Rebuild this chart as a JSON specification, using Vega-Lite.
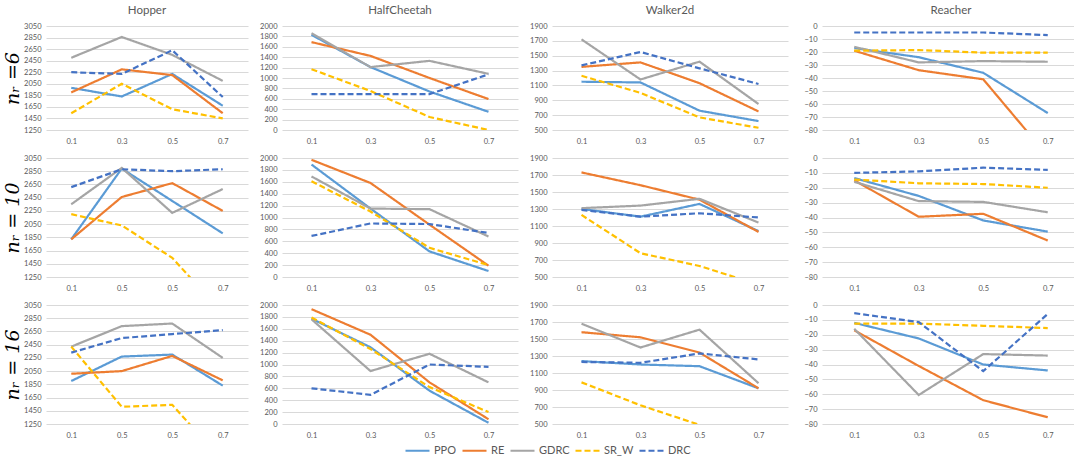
{
"$schema":"https://vega.github.io/schema/vega-lite/v6.json",
"background":"white",
"padding":{"left":3,"top":4,"right":0,"bottom":0},
"datasets":{"d":[
{"e":"Hopper","n":6,"m":"PPO","x":"0.1","v":1980},{"e":"Hopper","n":6,"m":"PPO","x":"0.3","v":1830},{"e":"Hopper","n":6,"m":"PPO","x":"0.5","v":2220},{"e":"Hopper","n":6,"m":"PPO","x":"0.7","v":1670},
{"e":"Hopper","n":6,"m":"RE","x":"0.1","v":1900},{"e":"Hopper","n":6,"m":"RE","x":"0.3","v":2300},{"e":"Hopper","n":6,"m":"RE","x":"0.5","v":2200},{"e":"Hopper","n":6,"m":"RE","x":"0.7","v":1540},
{"e":"Hopper","n":6,"m":"GDRC","x":"0.1","v":2500},{"e":"Hopper","n":6,"m":"GDRC","x":"0.3","v":2860},{"e":"Hopper","n":6,"m":"GDRC","x":"0.5","v":2550},{"e":"Hopper","n":6,"m":"GDRC","x":"0.7","v":2100},
{"e":"Hopper","n":6,"m":"SR_W","x":"0.1","v":1540},{"e":"Hopper","n":6,"m":"SR_W","x":"0.3","v":2050},{"e":"Hopper","n":6,"m":"SR_W","x":"0.5","v":1610},{"e":"Hopper","n":6,"m":"SR_W","x":"0.7","v":1450},
{"e":"Hopper","n":6,"m":"DRC","x":"0.1","v":2250},{"e":"Hopper","n":6,"m":"DRC","x":"0.3","v":2220},{"e":"Hopper","n":6,"m":"DRC","x":"0.5","v":2630},{"e":"Hopper","n":6,"m":"DRC","x":"0.7","v":1820},
{"e":"HalfCheetah","n":6,"m":"PPO","x":"0.1","v":1830},{"e":"HalfCheetah","n":6,"m":"PPO","x":"0.3","v":1210},{"e":"HalfCheetah","n":6,"m":"PPO","x":"0.5","v":740},{"e":"HalfCheetah","n":6,"m":"PPO","x":"0.7","v":350},
{"e":"HalfCheetah","n":6,"m":"RE","x":"0.1","v":1690},{"e":"HalfCheetah","n":6,"m":"RE","x":"0.3","v":1425},{"e":"HalfCheetah","n":6,"m":"RE","x":"0.5","v":1000},{"e":"HalfCheetah","n":6,"m":"RE","x":"0.7","v":595},
{"e":"HalfCheetah","n":6,"m":"GDRC","x":"0.1","v":1860},{"e":"HalfCheetah","n":6,"m":"GDRC","x":"0.3","v":1210},{"e":"HalfCheetah","n":6,"m":"GDRC","x":"0.5","v":1330},{"e":"HalfCheetah","n":6,"m":"GDRC","x":"0.7","v":1080},
{"e":"HalfCheetah","n":6,"m":"SR_W","x":"0.1","v":1170},{"e":"HalfCheetah","n":6,"m":"SR_W","x":"0.3","v":750},{"e":"HalfCheetah","n":6,"m":"SR_W","x":"0.5","v":250},{"e":"HalfCheetah","n":6,"m":"SR_W","x":"0.7","v":0},
{"e":"HalfCheetah","n":6,"m":"DRC","x":"0.1","v":690},{"e":"HalfCheetah","n":6,"m":"DRC","x":"0.3","v":690},{"e":"HalfCheetah","n":6,"m":"DRC","x":"0.5","v":690},{"e":"HalfCheetah","n":6,"m":"DRC","x":"0.7","v":1070},
{"e":"Walker2d","n":6,"m":"PPO","x":"0.1","v":1150},{"e":"Walker2d","n":6,"m":"PPO","x":"0.3","v":1140},{"e":"Walker2d","n":6,"m":"PPO","x":"0.5","v":760},{"e":"Walker2d","n":6,"m":"PPO","x":"0.7","v":620},
{"e":"Walker2d","n":6,"m":"RE","x":"0.1","v":1350},{"e":"Walker2d","n":6,"m":"RE","x":"0.3","v":1410},{"e":"Walker2d","n":6,"m":"RE","x":"0.5","v":1130},{"e":"Walker2d","n":6,"m":"RE","x":"0.7","v":750},
{"e":"Walker2d","n":6,"m":"GDRC","x":"0.1","v":1720},{"e":"Walker2d","n":6,"m":"GDRC","x":"0.3","v":1180},{"e":"Walker2d","n":6,"m":"GDRC","x":"0.5","v":1420},{"e":"Walker2d","n":6,"m":"GDRC","x":"0.7","v":850},
{"e":"Walker2d","n":6,"m":"SR_W","x":"0.1","v":1230},{"e":"Walker2d","n":6,"m":"SR_W","x":"0.3","v":1000},{"e":"Walker2d","n":6,"m":"SR_W","x":"0.5","v":670},{"e":"Walker2d","n":6,"m":"SR_W","x":"0.7","v":530},
{"e":"Walker2d","n":6,"m":"DRC","x":"0.1","v":1370},{"e":"Walker2d","n":6,"m":"DRC","x":"0.3","v":1550},{"e":"Walker2d","n":6,"m":"DRC","x":"0.5","v":1330},{"e":"Walker2d","n":6,"m":"DRC","x":"0.7","v":1120},
{"e":"Reacher","n":6,"m":"PPO","x":"0.1","v":-17},{"e":"Reacher","n":6,"m":"PPO","x":"0.3","v":-24},{"e":"Reacher","n":6,"m":"PPO","x":"0.5","v":-36},{"e":"Reacher","n":6,"m":"PPO","x":"0.7","v":-67},
{"e":"Reacher","n":6,"m":"RE","x":"0.1","v":-19},{"e":"Reacher","n":6,"m":"RE","x":"0.3","v":-34},{"e":"Reacher","n":6,"m":"RE","x":"0.5","v":-41},{"e":"Reacher","n":6,"m":"RE","x":"0.7","v":-100},
{"e":"Reacher","n":6,"m":"GDRC","x":"0.1","v":-16},{"e":"Reacher","n":6,"m":"GDRC","x":"0.3","v":-28},{"e":"Reacher","n":6,"m":"GDRC","x":"0.5","v":-27},{"e":"Reacher","n":6,"m":"GDRC","x":"0.7","v":-27.5},
{"e":"Reacher","n":6,"m":"SR_W","x":"0.1","v":-19},{"e":"Reacher","n":6,"m":"SR_W","x":"0.3","v":-18.5},{"e":"Reacher","n":6,"m":"SR_W","x":"0.5","v":-20.5},{"e":"Reacher","n":6,"m":"SR_W","x":"0.7","v":-20.5},
{"e":"Reacher","n":6,"m":"DRC","x":"0.1","v":-5},{"e":"Reacher","n":6,"m":"DRC","x":"0.3","v":-5},{"e":"Reacher","n":6,"m":"DRC","x":"0.5","v":-5},{"e":"Reacher","n":6,"m":"DRC","x":"0.7","v":-7},
{"e":"Hopper","n":10,"m":"PPO","x":"0.1","v":1820},{"e":"Hopper","n":10,"m":"PPO","x":"0.3","v":2890},{"e":"Hopper","n":10,"m":"PPO","x":"0.5","v":2400},{"e":"Hopper","n":10,"m":"PPO","x":"0.7","v":1910},
{"e":"Hopper","n":10,"m":"RE","x":"0.1","v":1820},{"e":"Hopper","n":10,"m":"RE","x":"0.3","v":2460},{"e":"Hopper","n":10,"m":"RE","x":"0.5","v":2670},{"e":"Hopper","n":10,"m":"RE","x":"0.7","v":2250},
{"e":"Hopper","n":10,"m":"GDRC","x":"0.1","v":2350},{"e":"Hopper","n":10,"m":"GDRC","x":"0.3","v":2900},{"e":"Hopper","n":10,"m":"GDRC","x":"0.5","v":2220},{"e":"Hopper","n":10,"m":"GDRC","x":"0.7","v":2580},
{"e":"Hopper","n":10,"m":"SR_W","x":"0.1","v":2200},{"e":"Hopper","n":10,"m":"SR_W","x":"0.3","v":2030},{"e":"Hopper","n":10,"m":"SR_W","x":"0.5","v":1540},{"e":"Hopper","n":10,"m":"SR_W","x":"0.7","v":700},
{"e":"Hopper","n":10,"m":"DRC","x":"0.1","v":2610},{"e":"Hopper","n":10,"m":"DRC","x":"0.3","v":2880},{"e":"Hopper","n":10,"m":"DRC","x":"0.5","v":2850},{"e":"Hopper","n":10,"m":"DRC","x":"0.7","v":2880},
{"e":"HalfCheetah","n":10,"m":"PPO","x":"0.1","v":1890},{"e":"HalfCheetah","n":10,"m":"PPO","x":"0.3","v":1150},{"e":"HalfCheetah","n":10,"m":"PPO","x":"0.5","v":430},{"e":"HalfCheetah","n":10,"m":"PPO","x":"0.7","v":100},
{"e":"HalfCheetah","n":10,"m":"RE","x":"0.1","v":1970},{"e":"HalfCheetah","n":10,"m":"RE","x":"0.3","v":1580},{"e":"HalfCheetah","n":10,"m":"RE","x":"0.5","v":880},{"e":"HalfCheetah","n":10,"m":"RE","x":"0.7","v":190},
{"e":"HalfCheetah","n":10,"m":"GDRC","x":"0.1","v":1690},{"e":"HalfCheetah","n":10,"m":"GDRC","x":"0.3","v":1150},{"e":"HalfCheetah","n":10,"m":"GDRC","x":"0.5","v":1140},{"e":"HalfCheetah","n":10,"m":"GDRC","x":"0.7","v":680},
{"e":"HalfCheetah","n":10,"m":"SR_W","x":"0.1","v":1610},{"e":"HalfCheetah","n":10,"m":"SR_W","x":"0.3","v":1100},{"e":"HalfCheetah","n":10,"m":"SR_W","x":"0.5","v":490},{"e":"HalfCheetah","n":10,"m":"SR_W","x":"0.7","v":200},
{"e":"HalfCheetah","n":10,"m":"DRC","x":"0.1","v":690},{"e":"HalfCheetah","n":10,"m":"DRC","x":"0.3","v":900},{"e":"HalfCheetah","n":10,"m":"DRC","x":"0.5","v":890},{"e":"HalfCheetah","n":10,"m":"DRC","x":"0.7","v":740},
{"e":"Walker2d","n":10,"m":"PPO","x":"0.1","v":1300},{"e":"Walker2d","n":10,"m":"PPO","x":"0.3","v":1210},{"e":"Walker2d","n":10,"m":"PPO","x":"0.5","v":1360},{"e":"Walker2d","n":10,"m":"PPO","x":"0.7","v":1040},
{"e":"Walker2d","n":10,"m":"RE","x":"0.1","v":1730},{"e":"Walker2d","n":10,"m":"RE","x":"0.3","v":1580},{"e":"Walker2d","n":10,"m":"RE","x":"0.5","v":1410},{"e":"Walker2d","n":10,"m":"RE","x":"0.7","v":1030},
{"e":"Walker2d","n":10,"m":"GDRC","x":"0.1","v":1310},{"e":"Walker2d","n":10,"m":"GDRC","x":"0.3","v":1340},{"e":"Walker2d","n":10,"m":"GDRC","x":"0.5","v":1420},{"e":"Walker2d","n":10,"m":"GDRC","x":"0.7","v":1140},
{"e":"Walker2d","n":10,"m":"SR_W","x":"0.1","v":1230},{"e":"Walker2d","n":10,"m":"SR_W","x":"0.3","v":780},{"e":"Walker2d","n":10,"m":"SR_W","x":"0.5","v":630},{"e":"Walker2d","n":10,"m":"SR_W","x":"0.7","v":410},
{"e":"Walker2d","n":10,"m":"DRC","x":"0.1","v":1290},{"e":"Walker2d","n":10,"m":"DRC","x":"0.3","v":1210},{"e":"Walker2d","n":10,"m":"DRC","x":"0.5","v":1250},{"e":"Walker2d","n":10,"m":"DRC","x":"0.7","v":1200},
{"e":"Reacher","n":10,"m":"PPO","x":"0.1","v":-13.5},{"e":"Reacher","n":10,"m":"PPO","x":"0.3","v":-25.5},{"e":"Reacher","n":10,"m":"PPO","x":"0.5","v":-42},{"e":"Reacher","n":10,"m":"PPO","x":"0.7","v":-49.5},
{"e":"Reacher","n":10,"m":"RE","x":"0.1","v":-15},{"e":"Reacher","n":10,"m":"RE","x":"0.3","v":-39.5},{"e":"Reacher","n":10,"m":"RE","x":"0.5","v":-37.5},{"e":"Reacher","n":10,"m":"RE","x":"0.7","v":-55.5},
{"e":"Reacher","n":10,"m":"GDRC","x":"0.1","v":-16},{"e":"Reacher","n":10,"m":"GDRC","x":"0.3","v":-29},{"e":"Reacher","n":10,"m":"GDRC","x":"0.5","v":-29.5},{"e":"Reacher","n":10,"m":"GDRC","x":"0.7","v":-36.5},
{"e":"Reacher","n":10,"m":"SR_W","x":"0.1","v":-14.5},{"e":"Reacher","n":10,"m":"SR_W","x":"0.3","v":-17},{"e":"Reacher","n":10,"m":"SR_W","x":"0.5","v":-17.5},{"e":"Reacher","n":10,"m":"SR_W","x":"0.7","v":-20},
{"e":"Reacher","n":10,"m":"DRC","x":"0.1","v":-10},{"e":"Reacher","n":10,"m":"DRC","x":"0.3","v":-9},{"e":"Reacher","n":10,"m":"DRC","x":"0.5","v":-6.5},{"e":"Reacher","n":10,"m":"DRC","x":"0.7","v":-8},
{"e":"Hopper","n":16,"m":"PPO","x":"0.1","v":1900},{"e":"Hopper","n":16,"m":"PPO","x":"0.3","v":2270},{"e":"Hopper","n":16,"m":"PPO","x":"0.5","v":2300},{"e":"Hopper","n":16,"m":"PPO","x":"0.7","v":1830},
{"e":"Hopper","n":16,"m":"RE","x":"0.1","v":2010},{"e":"Hopper","n":16,"m":"RE","x":"0.3","v":2050},{"e":"Hopper","n":16,"m":"RE","x":"0.5","v":2280},{"e":"Hopper","n":16,"m":"RE","x":"0.7","v":1910},
{"e":"Hopper","n":16,"m":"GDRC","x":"0.1","v":2420},{"e":"Hopper","n":16,"m":"GDRC","x":"0.3","v":2730},{"e":"Hopper","n":16,"m":"GDRC","x":"0.5","v":2770},{"e":"Hopper","n":16,"m":"GDRC","x":"0.7","v":2250},
{"e":"Hopper","n":16,"m":"SR_W","x":"0.1","v":2420},{"e":"Hopper","n":16,"m":"SR_W","x":"0.3","v":1510},{"e":"Hopper","n":16,"m":"SR_W","x":"0.5","v":1540},{"e":"Hopper","n":16,"m":"SR_W","x":"0.7","v":690},
{"e":"Hopper","n":16,"m":"DRC","x":"0.1","v":2330},{"e":"Hopper","n":16,"m":"DRC","x":"0.3","v":2550},{"e":"Hopper","n":16,"m":"DRC","x":"0.5","v":2610},{"e":"Hopper","n":16,"m":"DRC","x":"0.7","v":2670},
{"e":"HalfCheetah","n":16,"m":"PPO","x":"0.1","v":1770},{"e":"HalfCheetah","n":16,"m":"PPO","x":"0.3","v":1290},{"e":"HalfCheetah","n":16,"m":"PPO","x":"0.5","v":560},{"e":"HalfCheetah","n":16,"m":"PPO","x":"0.7","v":20},
{"e":"HalfCheetah","n":16,"m":"RE","x":"0.1","v":1930},{"e":"HalfCheetah","n":16,"m":"RE","x":"0.3","v":1500},{"e":"HalfCheetah","n":16,"m":"RE","x":"0.5","v":700},{"e":"HalfCheetah","n":16,"m":"RE","x":"0.7","v":80},
{"e":"HalfCheetah","n":16,"m":"GDRC","x":"0.1","v":1760},{"e":"HalfCheetah","n":16,"m":"GDRC","x":"0.3","v":890},{"e":"HalfCheetah","n":16,"m":"GDRC","x":"0.5","v":1180},{"e":"HalfCheetah","n":16,"m":"GDRC","x":"0.7","v":700},
{"e":"HalfCheetah","n":16,"m":"SR_W","x":"0.1","v":1790},{"e":"HalfCheetah","n":16,"m":"SR_W","x":"0.3","v":1260},{"e":"HalfCheetah","n":16,"m":"SR_W","x":"0.5","v":620},{"e":"HalfCheetah","n":16,"m":"SR_W","x":"0.7","v":200},
{"e":"HalfCheetah","n":16,"m":"DRC","x":"0.1","v":600},{"e":"HalfCheetah","n":16,"m":"DRC","x":"0.3","v":490},{"e":"HalfCheetah","n":16,"m":"DRC","x":"0.5","v":1000},{"e":"HalfCheetah","n":16,"m":"DRC","x":"0.7","v":960},
{"e":"Walker2d","n":16,"m":"PPO","x":"0.1","v":1240},{"e":"Walker2d","n":16,"m":"PPO","x":"0.3","v":1200},{"e":"Walker2d","n":16,"m":"PPO","x":"0.5","v":1180},{"e":"Walker2d","n":16,"m":"PPO","x":"0.7","v":920},
{"e":"Walker2d","n":16,"m":"RE","x":"0.1","v":1580},{"e":"Walker2d","n":16,"m":"RE","x":"0.3","v":1520},{"e":"Walker2d","n":16,"m":"RE","x":"0.5","v":1340},{"e":"Walker2d","n":16,"m":"RE","x":"0.7","v":920},
{"e":"Walker2d","n":16,"m":"GDRC","x":"0.1","v":1680},{"e":"Walker2d","n":16,"m":"GDRC","x":"0.3","v":1400},{"e":"Walker2d","n":16,"m":"GDRC","x":"0.5","v":1610},{"e":"Walker2d","n":16,"m":"GDRC","x":"0.7","v":980},
{"e":"Walker2d","n":16,"m":"SR_W","x":"0.1","v":990},{"e":"Walker2d","n":16,"m":"SR_W","x":"0.3","v":720},{"e":"Walker2d","n":16,"m":"SR_W","x":"0.5","v":490},{"e":"Walker2d","n":16,"m":"SR_W","x":"0.7","v":300},
{"e":"Walker2d","n":16,"m":"DRC","x":"0.1","v":1230},{"e":"Walker2d","n":16,"m":"DRC","x":"0.3","v":1220},{"e":"Walker2d","n":16,"m":"DRC","x":"0.5","v":1330},{"e":"Walker2d","n":16,"m":"DRC","x":"0.7","v":1260},
{"e":"Reacher","n":16,"m":"PPO","x":"0.1","v":-12},{"e":"Reacher","n":16,"m":"PPO","x":"0.3","v":-22.5},{"e":"Reacher","n":16,"m":"PPO","x":"0.5","v":-40},{"e":"Reacher","n":16,"m":"PPO","x":"0.7","v":-44},
{"e":"Reacher","n":16,"m":"RE","x":"0.1","v":-17},{"e":"Reacher","n":16,"m":"RE","x":"0.3","v":-41},{"e":"Reacher","n":16,"m":"RE","x":"0.5","v":-64},{"e":"Reacher","n":16,"m":"RE","x":"0.7","v":-75.5},
{"e":"Reacher","n":16,"m":"GDRC","x":"0.1","v":-16},{"e":"Reacher","n":16,"m":"GDRC","x":"0.3","v":-60.5},{"e":"Reacher","n":16,"m":"GDRC","x":"0.5","v":-33},{"e":"Reacher","n":16,"m":"GDRC","x":"0.7","v":-34},
{"e":"Reacher","n":16,"m":"SR_W","x":"0.1","v":-12.5},{"e":"Reacher","n":16,"m":"SR_W","x":"0.3","v":-12.5},{"e":"Reacher","n":16,"m":"SR_W","x":"0.5","v":-14},{"e":"Reacher","n":16,"m":"SR_W","x":"0.7","v":-15.5},
{"e":"Reacher","n":16,"m":"DRC","x":"0.1","v":-5.5},{"e":"Reacher","n":16,"m":"DRC","x":"0.3","v":-11.5},{"e":"Reacher","n":16,"m":"DRC","x":"0.5","v":-44.5},{"e":"Reacher","n":16,"m":"DRC","x":"0.7","v":-6}
]},
"data":{"name":"d"},
"bounds":"flush",
"columns":4,
"spacing":{"row":28,"column":34},
"concat":[
{"width":202,"height":104,"title":"Hopper","transform":[{"filter":"datum.e=='Hopper' && datum.n==6"}],"mark":{"type":"line","clip":true},
"encoding":{"x":{"field":"x","type":"ordinal","title":null,"scale":{"type":"point","padding":0.5}},
"y":{"field":"v","type":"quantitative","scale":{"domain":[1250,3050],"nice":false,"zero":false},"axis":{"values":[1250,1450,1650,1850,2050,2250,2450,2650,2850,3050],"title":"nᵣ =6"}},
"color":{"field":"m","type":"nominal","title":null,"scale":{"domain":["PPO","RE","GDRC","SR_W","DRC"],"range":["#5B9BD5","#ED7D31","#A5A5A5","#FFC000","#4472C4"]}},
"strokeDash":{"field":"m","type":"nominal","title":null,"scale":{"domain":["PPO","RE","GDRC","SR_W","DRC"],"range":[[1,0],[1,0],[1,0],[6,3],[6,3]]}}}},
{"width":236,"height":104,"title":"HalfCheetah","transform":[{"filter":"datum.e=='HalfCheetah' && datum.n==6"}],"mark":{"type":"line","clip":true},
"encoding":{"x":{"field":"x","type":"ordinal","title":null,"scale":{"type":"point","padding":0.5}},
"y":{"field":"v","type":"quantitative","scale":{"domain":[0,2000],"nice":false},"axis":{"values":[0,200,400,600,800,1000,1200,1400,1600,1800,2000],"title":null}},
"color":{"field":"m","type":"nominal","title":null},"strokeDash":{"field":"m","type":"nominal","title":null}}},
{"width":236,"height":104,"title":"Walker2d","transform":[{"filter":"datum.e=='Walker2d' && datum.n==6"}],"mark":{"type":"line","clip":true},
"encoding":{"x":{"field":"x","type":"ordinal","title":null,"scale":{"type":"point","padding":0.5}},
"y":{"field":"v","type":"quantitative","scale":{"domain":[500,1900],"nice":false,"zero":false},"axis":{"values":[500,700,900,1100,1300,1500,1700,1900],"title":null}},
"color":{"field":"m","type":"nominal","title":null},"strokeDash":{"field":"m","type":"nominal","title":null}}},
{"width":258,"height":104,"title":"Reacher","transform":[{"filter":"datum.e=='Reacher' && datum.n==6"}],"mark":{"type":"line","clip":true},
"encoding":{"x":{"field":"x","type":"ordinal","title":null,"scale":{"type":"point","padding":0.5}},
"y":{"field":"v","type":"quantitative","scale":{"domain":[-80,0],"nice":false},"axis":{"values":[-80,-70,-60,-50,-40,-30,-20,-10,0],"title":null}},
"color":{"field":"m","type":"nominal","title":null},"strokeDash":{"field":"m","type":"nominal","title":null}}},
{"width":202,"height":119,"transform":[{"filter":"datum.e=='Hopper' && datum.n==10"}],"mark":{"type":"line","clip":true},
"encoding":{"x":{"field":"x","type":"ordinal","title":null,"scale":{"type":"point","padding":0.5},"axis":{"labelExpr":"datum.value=='0.3' ? '0.5' : datum.label"}},
"y":{"field":"v","type":"quantitative","scale":{"domain":[1250,3050],"nice":false,"zero":false},"axis":{"values":[1250,1450,1650,1850,2050,2250,2450,2650,2850,3050],"title":"nᵣ = 10"}},
"color":{"field":"m","type":"nominal","title":null},"strokeDash":{"field":"m","type":"nominal","title":null}}},
{"width":236,"height":119,"transform":[{"filter":"datum.e=='HalfCheetah' && datum.n==10"}],"mark":{"type":"line","clip":true},
"encoding":{"x":{"field":"x","type":"ordinal","title":null,"scale":{"type":"point","padding":0.5}},
"y":{"field":"v","type":"quantitative","scale":{"domain":[0,2000],"nice":false},"axis":{"values":[0,200,400,600,800,1000,1200,1400,1600,1800,2000],"title":null}},
"color":{"field":"m","type":"nominal","title":null},"strokeDash":{"field":"m","type":"nominal","title":null}}},
{"width":236,"height":119,"transform":[{"filter":"datum.e=='Walker2d' && datum.n==10"}],"mark":{"type":"line","clip":true},
"encoding":{"x":{"field":"x","type":"ordinal","title":null,"scale":{"type":"point","padding":0.5}},
"y":{"field":"v","type":"quantitative","scale":{"domain":[500,1900],"nice":false,"zero":false},"axis":{"values":[500,700,900,1100,1300,1500,1700,1900],"title":null}},
"color":{"field":"m","type":"nominal","title":null},"strokeDash":{"field":"m","type":"nominal","title":null}}},
{"width":258,"height":119,"transform":[{"filter":"datum.e=='Reacher' && datum.n==10"}],"mark":{"type":"line","clip":true},
"encoding":{"x":{"field":"x","type":"ordinal","title":null,"scale":{"type":"point","padding":0.5}},
"y":{"field":"v","type":"quantitative","scale":{"domain":[-80,0],"nice":false},"axis":{"values":[-80,-70,-60,-50,-40,-30,-20,-10,0],"title":null}},
"color":{"field":"m","type":"nominal","title":null},"strokeDash":{"field":"m","type":"nominal","title":null}}},
{"width":202,"height":119,"transform":[{"filter":"datum.e=='Hopper' && datum.n==16"}],"mark":{"type":"line","clip":true},
"encoding":{"x":{"field":"x","type":"ordinal","title":null,"scale":{"type":"point","padding":0.5},"axis":{"labelExpr":"datum.value=='0.3' ? '0.5' : datum.label"}},
"y":{"field":"v","type":"quantitative","scale":{"domain":[1250,3050],"nice":false,"zero":false},"axis":{"values":[1250,1450,1650,1850,2050,2250,2450,2650,2850,3050],"title":"nᵣ = 16"}},
"color":{"field":"m","type":"nominal","title":null},"strokeDash":{"field":"m","type":"nominal","title":null}}},
{"width":236,"height":119,"transform":[{"filter":"datum.e=='HalfCheetah' && datum.n==16"}],"mark":{"type":"line","clip":true},
"encoding":{"x":{"field":"x","type":"ordinal","title":null,"scale":{"type":"point","padding":0.5}},
"y":{"field":"v","type":"quantitative","scale":{"domain":[0,2000],"nice":false},"axis":{"values":[0,200,400,600,800,1000,1200,1400,1600,1800,2000],"title":null}},
"color":{"field":"m","type":"nominal","title":null},"strokeDash":{"field":"m","type":"nominal","title":null}}},
{"width":236,"height":119,"transform":[{"filter":"datum.e=='Walker2d' && datum.n==16"}],"mark":{"type":"line","clip":true},
"encoding":{"x":{"field":"x","type":"ordinal","title":null,"scale":{"type":"point","padding":0.5}},
"y":{"field":"v","type":"quantitative","scale":{"domain":[500,1900],"nice":false,"zero":false},"axis":{"values":[500,700,900,1100,1300,1500,1700,1900],"title":null}},
"color":{"field":"m","type":"nominal","title":null},"strokeDash":{"field":"m","type":"nominal","title":null}}},
{"width":258,"height":119,"transform":[{"filter":"datum.e=='Reacher' && datum.n==16"}],"mark":{"type":"line","clip":true},
"encoding":{"x":{"field":"x","type":"ordinal","title":null,"scale":{"type":"point","padding":0.5}},
"y":{"field":"v","type":"quantitative","scale":{"domain":[-80,0],"nice":false},"axis":{"values":[-80,-70,-60,-50,-40,-30,-20,-10,0],"title":null}},
"color":{"field":"m","type":"nominal","title":null},"strokeDash":{"field":"m","type":"nominal","title":null}}}
],
"config":{
"font":"Lato",
"view":{"stroke":null},
"line":{"strokeWidth":2.2},
"axis":{"labelColor":"#595959","labelFont":"Lato","labelFontSize":7.5,"ticks":false,"domain":false,"gridColor":"#d9d9d9","gridWidth":1,"titleFont":"DejaVu Serif","titleFontStyle":"italic","titleFontWeight":"normal","titleFontSize":19,"titleColor":"#000000","titlePadding":1},
"axisX":{"grid":false,"labelAngle":0,"labelPadding":7},
"axisY":{"grid":true,"labelPadding":5,"format":"d"},
"title":{"font":"Lato","fontSize":11.5,"fontWeight":"normal","color":"#595959","offset":6},
"legend":{"orient":"none","legendX":358,"legendY":411,"direction":"horizontal","columns":5,"symbolType":"stroke","symbolSize":576,"symbolStrokeWidth":2.5,"labelFontSize":11,"labelOffset":3,"labelColor":"#595959","labelFont":"Lato","columnPadding":1}
}
}
